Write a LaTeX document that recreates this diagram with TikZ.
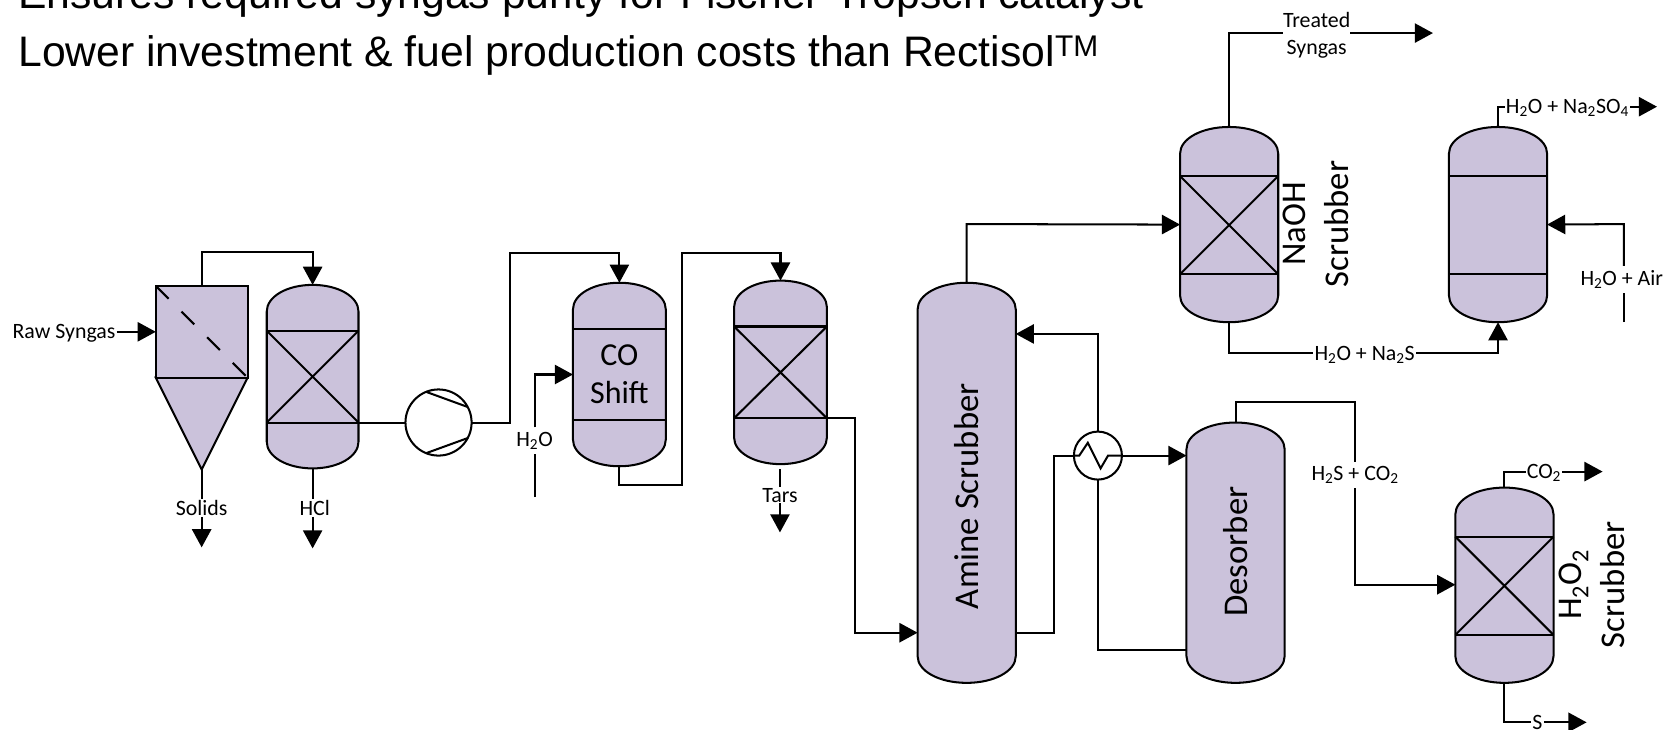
\documentclass[tikz,border=0pt]{standalone}
\usepackage{fontspec}
\setmainfont{Carlito}
\newfontfamily\headfont{Liberation Sans}
\usetikzlibrary{arrows.meta}
\definecolor{vesselfill}{RGB}{203,194,219}
\tikzset{
  pipe/.style={line width=1.9pt,line join=miter},
  flow/.style={pipe,-{Triangle[length=17pt,width=18pt]}},
  vesselline/.style={line width=1.9pt},
  vesselbox/.style={inner sep=0pt,outer sep=0pt},
  stream/.style={inner sep=1pt,font=\fontsize{20.5}{26}\selectfont},
  inline/.style={stream,text height=15pt,text depth=2pt},
  tag/.style={font=\fontsize{32.5}{34}\selectfont,rotate=90,align=center},
  heading/.style={anchor=base west,inner sep=0pt,font=\headfont\fontsize{40}{45}\selectfont}
}
\newcommand{\vessel}[5]{
  \filldraw[vesselline,fill=vesselfill] ({#2-#5/2},{#3+25})
    .. controls ({#2-#5/2},{#3+11}) and ({#2-#5*0.28},#3) .. (#2,#3)
    .. controls ({#2+#5*0.28},#3) and ({#2+#5/2},{#3+11}) .. ({#2+#5/2},{#3+25})
    -- ({#2+#5/2},{#4-25})
    .. controls ({#2+#5/2},{#4-11}) and ({#2+#5*0.28},#4) .. (#2,#4)
    .. controls ({#2-#5*0.28},#4) and ({#2-#5/2},{#4-11}) .. ({#2-#5/2},{#4-25})
    -- cycle;
  \node[vesselbox,minimum width={#5*1pt},minimum height={(#4-#3)*1pt}] (#1) at (#2,{(#3+#4)/2}) {};
}
\newcommand{\bands}[3]{
  \draw[vesselline] (#1.west |- 0,#2) -- (#1.east |- 0,#2) (#1.west |- 0,#3) -- (#1.east |- 0,#3);
}
\newcommand{\packing}[3]{
  \bands{#1}{#2}{#3}
  \draw[vesselline] (#1.west |- 0,#2) -- (#1.east |- 0,#3) (#1.west |- 0,#3) -- (#1.east |- 0,#2);
}
\begin{document}
\begin{tikzpicture}[x=1pt,y=-1pt]
  \useasboundingbox (0,0) rectangle (1568,684);

  \node[heading] (line1) at (17,8) {Ensures required syngas purity for Fischer-Tropsch catalyst};
  \node[heading] (line2) at (17,62) {Lower investment \& fuel production costs than Rectisol\textsuperscript{TM}};

  % cyclone
  \filldraw[vesselline,fill=vesselfill] (146,354) -- (232,354) -- (189,440) -- cycle;
  \node[vesselbox,draw,line width=1.9pt,fill=vesselfill,minimum width=86pt,minimum height=86pt] (cyclone) at (189,311) {};
  \draw[vesselline,dash pattern=on 17pt off 17pt] (cyclone.north west) -- (cyclone.south east);
  \coordinate (cyclonetip) at (189,440);

  % vessels
  \vessel{hcl}{293}{267}{439}{86}
  \vessel{shift}{580.5}{265}{437}{87}
  \vessel{tar}{731.5}{263}{435}{87}
  \vessel{amine}{906}{265}{640}{92}
  \vessel{naoh}{1152}{119}{302}{92}
  \vessel{oxid}{1404}{119}{302}{92}
  \vessel{desorber}{1158}{396}{640}{92}
  \vessel{peroxide}{1410}{457}{640}{92}
  \packing{hcl}{310}{396}
  \bands{shift}{308}{394}
  \packing{tar}{306}{392}
  \packing{naoh}{165}{257}
  \bands{oxid}{165}{257}
  \packing{peroxide}{503}{595}

  % compressor and heat exchanger
  \node[circle,draw,line width=1.9pt,fill=white,minimum size=62pt,inner sep=0pt,outer sep=0pt] (comp) at (411,396) {};
  \draw[vesselline] (comp.112) -- (comp.28) (comp.-112) -- (comp.-28);
  \node[circle,draw,line width=1.9pt,fill=white,minimum size=45pt,inner sep=0pt,outer sep=0pt] (hx) at (1029,427) {};
  \draw[vesselline] (hx.west) -- ++(5,0) -- ++(8,-12) -- ++(12,24) -- ++(7,-12) -- (hx.east);

  % labels
  \node[inline] (rawsyngas) at (60,311) {Raw Syngas};
  \node[stream] (solids) at (189,476) {Solids};
  \node[stream] (hcloff) at (295,476) {HCl};
  \node[stream,inner ysep=4pt] (water) at (501,413) {H\textsubscript{2}O};
  \node[stream] (tars) at (731,464) {Tars};
  \node[stream,align=center,inner xsep=0pt] (treated) at (1234,33) {Treated\\Syngas};
  \node[inline] (sulfate) at (1469,100) {H\textsubscript{2}O + Na\textsubscript{2}SO\textsubscript{4}};
  \node[inline] (sulfide) at (1279,331) {H\textsubscript{2}O + Na\textsubscript{2}S};
  \node[stream,inner ysep=4pt] (air) at (1520,262) {H\textsubscript{2}O + Air};
  \node[stream,inner ysep=4pt] (acidgas) at (1270,445) {H\textsubscript{2}S + CO\textsubscript{2}};
  \node[inline] (carbon) at (1447,442) {CO\textsubscript{2}};
  \node[stream] (sulfur) at (1441,677) {S};
  \node[tag] (aminetag) at (906,465) {Amine Scrubber};
  \node[tag] (desorbertag) at (1158,517) {Desorber};
  \node[tag] (naohtag) at (1233,210) {NaOH\\[6pt]Scrubber};
  \node[tag] (peroxidetag) at (1492,548) {H\textsubscript{2}O\textsubscript{2}\\[6pt]Scrubber};
  \node[font=\fontsize{30}{36}\selectfont,align=center] (shifttag) at (580.5,351) {CO\\Shift};

  % free ends
  \coordinate (solidsout) at (189,513);
  \coordinate (hclout) at (293,514);
  \coordinate (tarsout) at (731,499);
  \coordinate (waterin) at (501,466);
  \coordinate (airin) at (1522,302);
  \coordinate (treatedout) at (1343,31);
  \coordinate (sulfateout) at (1553,100);
  \coordinate (carbonout) at (1502,442);
  \coordinate (sulfurout) at (1487,677);

  % streams
  \draw[flow] (rawsyngas.east) -- (cyclone.west);
  \draw[flow] (cyclone.north) -- (189,236) -- (293,236) -- (hcl.north);
  \draw[pipe] (cyclonetip) -- (solids.north);
  \draw[flow] (solids.south) -- (solidsout);
  \draw[pipe] (hcl.south) -- (hcloff.north -| hcl.south);
  \draw[flow] (hcloff.south -| hclout) -- (hclout);
  \draw[pipe] (hcl.east |- comp.west) -- (comp.west);
  \draw[flow] (comp.east) -- (478,396) -- (478,237) -- (580.5,237) -- (shift.north);
  \draw[pipe] (waterin) -- (water.south -| waterin);
  \draw[flow] (water.north -| waterin) -- (501,351) -- (shift.west);
  \draw[flow] (shift.south) -- (580.5,455) -- (639,455) -- (639,237) -- (731.5,237) -- (tar.north);
  \draw[pipe] (731,440) -- (tars.north);
  \draw[flow] (tars.south) -- (tarsout);
  \draw[flow] (tar.east |- 0,392) -- (801,392) -- (801,593) -- (amine.west |- 0,593);
  \draw[flow] (amine.north) -- (906,210) -- (naoh.west);
  \draw[pipe] (amine.east |- 0,593) -- (988,593) -- (988,427) -- (hx.west);
  \draw[flow] (hx.east) -- (desorber.west |- hx.east);
  \draw[pipe] (desorber.west |- 0,609) -- (1029,609) -- (hx.south);
  \draw[flow] (hx.north) -- (1029,313) -- (amine.east |- 0,313);
  \draw[pipe] (desorber.north) -- (1158,377) -- (1270,377) -- (acidgas.north -| 1270,0);
  \draw[flow] (acidgas.south -| 1270,0) -- (1270,548) -- (peroxide.west |- 0,548);
  \draw[pipe] (peroxide.north) -- (1410,442) -- (carbon.west);
  \draw[flow] (carbon.east) -- (carbonout);
  \draw[pipe] (peroxide.south) -- (1410,677) -- (sulfur.west);
  \draw[flow] (sulfur.east) -- (sulfurout);
  \draw[pipe] (naoh.north) -- (1152,31) -- (treated.west |- treatedout);
  \draw[flow] (treated.east |- treatedout) -- (treatedout);
  \draw[pipe] (naoh.south) -- (1152,331) -- (sulfide.west);
  \draw[flow] (sulfide.east) -- (1404,331) -- (oxid.south);
  \draw[pipe] (oxid.north) -- (1404,100) -- (sulfate.west);
  \draw[flow] (sulfate.east) -- (sulfateout);
  \draw[pipe] (airin) -- (air.south -| airin);
  \draw[flow] (air.north -| airin) -- (1522,210) -- (oxid.east);
\end{tikzpicture}
\end{document}
